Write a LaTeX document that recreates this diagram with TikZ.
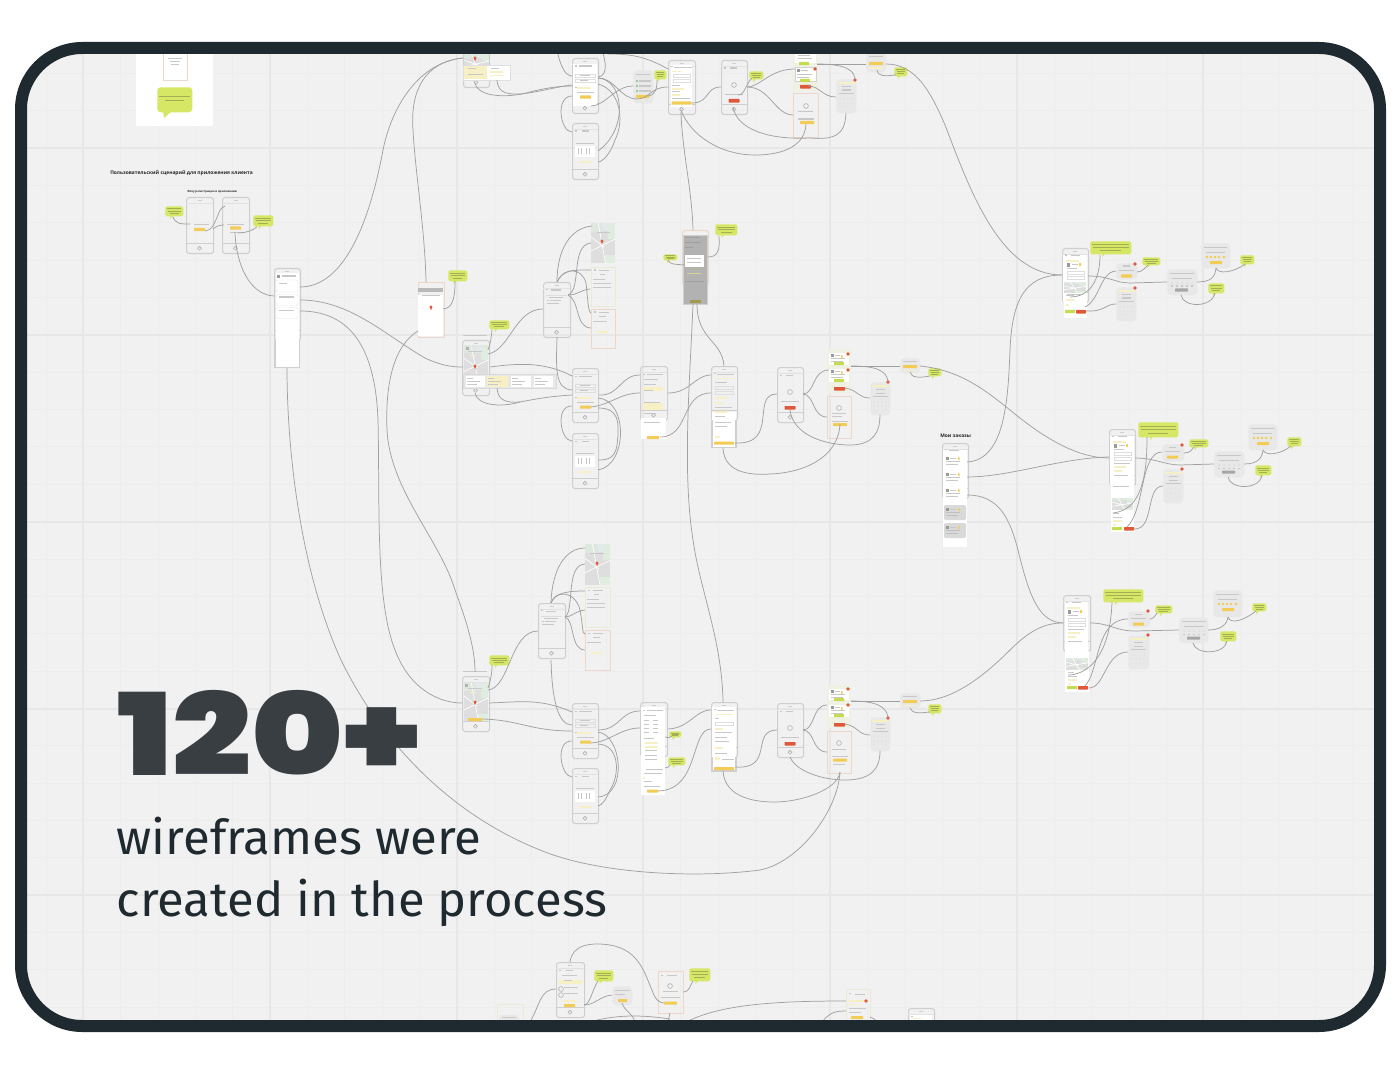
\documentclass[tikz,border=0pt]{standalone}
\usepackage{fontspec}
\usepackage{graphicx}
\setmainfont{Fira Sans}
\newfontfamily\hvy{Poppins Black}
\newfontfamily\lbl{Open Sans}[BoldFont={* Bold}]
\definecolor{board}{HTML}{F1F1F1}
\definecolor{gmaj}{HTML}{E7E7E7}
\definecolor{gmin}{HTML}{EDEDED}
\definecolor{frame}{HTML}{1F2A30}
\definecolor{big}{HTML}{393E42}
\definecolor{ph}{HTML}{CFCFCF}
\definecolor{wirec}{HTML}{A0A0A0}
\definecolor{tbarc}{HTML}{C8C8C8}
\definecolor{ybc}{HTML}{F2CC55}
\definecolor{rbc}{HTML}{E0583A}
\definecolor{gbc}{HTML}{C6DC4E}
\definecolor{lime}{HTML}{D6E765}
\definecolor{limet}{HTML}{A3AE55}
\definecolor{pale}{HTML}{F6F0C4}
\definecolor{sheetc}{HTML}{E8E8E8}
\definecolor{tanb}{HTML}{EBD8CA}
\definecolor{grnb}{HTML}{E8ECD6}
\definecolor{rowc}{HTML}{DEDEDE}
\tikzset{
 wire/.style={draw=wirec,line width=.55pt},
 phonebox/.style={draw=ph,line width=.85pt,rounded corners=2pt,inner sep=0pt,anchor=north west},
 sheetbox/.style={fill=sheetc,rounded corners=3pt,inner sep=0pt,anchor=north west},
 bubblebox/.style={fill=lime,rounded corners=1.2pt,inner sep=0pt,anchor=north west},
 framebox/.style={draw=#1,line width=.7pt,inner sep=0pt,anchor=north west},
 tbar/.style={fill=tbarc},
}
\newcommand\Wa[4]{\draw[wire] (#1) .. controls (#2) and (#3) .. (#4);}
\newcommand\Tb[3]{\fill[tbar] (#1,#2) rectangle ++(#3,1.4);}
\newcommand\Yb[3]{\fill[ybc,rounded corners=.5pt] (#1,#2) rectangle ++(#3,3.2);}
\newcommand\Rb[3]{\fill[rbc,rounded corners=.5pt] (#1,#2) rectangle ++(#3,3.6);}
\newcommand\Gb[3]{\fill[gbc,rounded corners=.5pt] (#1,#2) rectangle ++(#3,3.2);}
\newcommand\Pa[4]{\fill[pale] (#1,#2) rectangle ++(#3,#4);}
\newcommand\Wh[4]{\fill[white] (#1,#2) rectangle ++(#3,#4);}
\newcommand\Dot[2]{\fill[rbc] (#1,#2) circle[radius=1.8];}
\newcommand\Pin[2]{\fill[rbc] (#1,#2) circle[radius=1.6];\fill[rbc] (#1-1,#2+.5)--(#1,#2+3.5)--(#1+1,#2+.5)--cycle;}
\newcommand\Ring[2]{\draw[gray!70,line width=.4pt] (#1,#2) circle[radius=2.4];}
\newcommand\Row[4]{\draw[rowc,line width=.45pt] (#1,#2) rectangle (#3,#4);}
\newcommand\phone[5]{%
 \node[phonebox,minimum width=#4*.75pt,minimum height=#5*.75pt] (#1) at (#2,#3) {};
 \begin{scope}[shift={(#2,#3)}]
 \draw[ph,line width=.4pt] ({#4/2-2},3.6)--({#4/2+2},3.6);
 \draw[ph!60,line width=.4pt] (0,6.4)--(#4,6.4);
 \draw[ph,line width=.4pt] (0,{#5-9.5})--(#4,{#5-9.5});
 \draw[ph!85!black,line width=.45pt] ({#4/2},{#5-4.7}) circle[radius=1.9];
 \end{scope}}
\newcommand\bub[5]{%
 \fill[lime] ({#2+.3*#4},{#3+#5-.5})--++(0,3.6)--++(3,-3.6)--cycle;
 \node[bubblebox,minimum width=#4*.75pt,minimum height=#5*.75pt] (#1) at (#2,#3) {};
 \begin{scope}[shift={(#2,#3)}]
 \fill[limet] (2,{#5*.25}) rectangle ({#4-2},{#5*.25+.7});
 \fill[limet] (2.5,{#5*.48}) rectangle ({#4-2.5},{#5*.48+.7});
 \fill[limet] ({#4*.25},{#5*.7}) rectangle ({#4*.75},{#5*.7+.7});
 \end{scope}}
\newcommand\sheet[5]{\node[sheetbox,minimum width=#4*.75pt,minimum height=#5*.75pt] (#1) at (#2,#3) {};}
% screen templates (drawn inside a shifted scope, relative to the phone corner)
\newcommand\formG{\Tb{3}{7.5}{1.6}\Tb{7}{7.5}{13}\Row{3}{16}{23}{19}\Row{3}{21}{23}{24}\Tb{8}{17}{10}\Tb{8}{22}{8}\Pa{5}{29}{14}{2}\Tb{3}{29}{1.5}\Tb{5}{34}{17}\Yb{8}{37.5}{11}}
\newcommand\gridH{\Tb{3}{7.5}{1.6}\Tb{10}{7.5}{7}\Tb{4}{20}{18}\Wh{3}{23}{20}{11}\foreach \q in {6,9,14,17}{\fill[gray!45] (\q,25) rectangle ++(1.4,6);}\Pa{7}{38}{12}{2}}
\newcommand\scrKK{\Tb{3}{7.5}{2}\Tb{9}{7.5}{7}\Ring{13}{25}\Tb{4}{34}{18}\Rb{7.5}{39}{11}}
\newcommand\scrLL[1]{\Tb{3}{6.5}{2}\Tb{9}{7}{9}\Pa{4}{12}{13}{1.6}\fill[gray!80] (5,15) rectangle ++(3,4);\Tb{10}{16}{6}\Yb{17}{15}{2}\Tb{5}{20}{10}\Row{5}{23}{22}{26}\Row{5}{28}{22}{31}\Tb{5}{34}{16}\Pa{5}{37}{12}{2}\Pa{5}{41}{8}{2}\Tb{5}{46}{14}}
\newcommand\tileMap[4]{\begin{scope}\clip (#1,#2) rectangle ++(#3,#4);\fill[black!13] (#1,#2) rectangle ++(#3,#4);
 \fill[green!30!black!13] (#1,#2) rectangle ++(#3*.5,#4*.22);\fill[green!45!black!13] (#1+#3*.7,#2) rectangle ++(#3*.3,#4*.4);\fill[cyan!30!black!12] (#1+#3*.5,#2) rectangle ++(#3*.25,#4*.2);\fill[green!40!black!12] (#1+#3*.6,#2+#4*.8) rectangle ++(#3*.4,#4*.2);
 \draw[white,line width=.5pt] (#1,#2+#4*.7)--(#1+#3,#2+#4*.4) (#1+#3*.3,#2)--(#1+#3*.6,#2+#4) (#1,#2+#4*.35)--(#1+#3*.55,#2+#4*.6);
 \end{scope}}
\newcommand\shA{\Tb{6}{3}{9}\Tb{3}{8}{15}\Yb{6}{11.5}{10}}
\newcommand\shB{\Pa{2}{3}{17}{1.6}\Tb{6}{7}{9}\Tb{6}{10.5}{9}\Tb{3}{14}{15}\foreach \q in {4,8,12,16}{\foreach \r in {20,24,28}{\fill[gray!40] (\q,\r) circle[radius=.3];}}}
\newcommand\shC{\Tb{3}{4}{24}\Tb{5}{9}{20}\foreach \q in {5,10,15,20,25}{\fill[gray!55] (\q,14) circle[radius=.5];\Tb{\q-1}{16.5}{2}}\fill[gray!70,rounded corners=.5pt] (8,19.5) rectangle ++(13,3.2);}
\newcommand\shD{\Tb{3}{4}{23}\Tb{5}{9}{19}\foreach \q in {6,10,14,18,23}{\fill[ybc] (\q,14) circle[radius=1.3];}\Yb{9}{18}{12}}
\newcommand\cardP[1]{\Wh{1}{#1}{22}{13}\fill[gray!80] (3,#1+2) rectangle ++(2.5,3);\Tb{6.5}{#1+3}{6}\Yb{15}{#1+2}{1.6}\Tb{3}{#1+6}{14}\Tb{3}{#1+8.5}{12}}
\newcommand\cardG[1]{\fill[gray!30,rounded corners=1pt] (1,#1) rectangle ++(22,15);\fill[gray!80] (3,#1+3) rectangle ++(2.5,3);\Tb{6.5}{#1+4}{6}\Yb{15}{#1+3}{1.6}\fill[gray!50] (3,#1+7) rectangle ++(14,1.2);\fill[gray!50] (3,#1+10) rectangle ++(12,1.2);}
\begin{document}
\begin{tikzpicture}[x=.75pt,y=-.75pt]
\useasboundingbox (0,0) rectangle (1398,1080);
\begin{scope}
\clip[rounded corners=41pt] (27,54) rectangle (1374,1020);
\fill[board] (0,0) rectangle (1398,1080);
\foreach \k in {-1,...,36}{\draw[gmin,line width=.5pt] ({8.5+37.35*\k},0)--({8.5+37.35*\k},1080);}
\foreach \k in {-2,...,28}{\draw[gmin,line width=.5pt] (0,{148+37.35*\k})--(1398,{148+37.35*\k});}
\foreach \q in {83,270,457,643,830,1017,1203}{\draw[gmaj,line width=.8pt] (\q,0)--(\q,1080);}
\foreach \q in {148,335,522,709,895}{\draw[gmaj,line width=.8pt] (0,\q)--(1398,\q);}

% ---- top-left sheet
\fill[white] (136,40) rectangle (213,126);
\node[framebox=tanb,minimum width=24*.75pt,minimum height=40*.75pt] (note) at (163,40) {};
\Tb{168}{58}{14}\Tb{170}{61}{10}\Tb{171}{64}{8}
\fill[lime] (163,111)--(164,118)--(172,111)--cycle;
\node[bubblebox,minimum width=35*.75pt,minimum height=25*.75pt,rounded corners=2.5pt] (goal) at (157,87) {};
\fill[limet] (159,96.5) rectangle (190,97.4);\fill[limet] (165,100.5) rectangle (184,101.4);

% ---- titles
\node[anchor=base west,inner sep=0pt,text=black!85] (ttl) at (110,174.5) {\lbl\fontsize{3.67}{5}\selectfont\bfseries Пользовательский сценарий для приложения клиента};
\node[anchor=base west,inner sep=0pt,text=black!85] (ttl2) at (187,193) {\lbl\fontsize{2.1}{4}\selectfont\bfseries Флоу регистрации в приложении};
\node[anchor=base west,inner sep=0pt,text=black!85] (ttl3) at (940,437) {\lbl\fontsize{3.65}{5}\selectfont\bfseries Мои заказы};

% ---- registration
\phone{reg1}{186}{197}{27}{56}
\phone{reg2}{222}{197}{27}{56}
\begin{scope}[shift={(186,197)}]\Tb{8}{27}{15}\Yb{8}{31}{11}\end{scope}
\begin{scope}[shift={(222,197)}]\Tb{5}{27}{17}\Yb{8}{29.5}{11}\Tb{8}{35}{13}\end{scope}
\bub{b1}{165}{206}{18}{10}
\bub{b2}{253}{215}{20}{11}

% ---- tall menu phone
\phone{menu}{274}{268}{26}{72}
\Wh{275.5}{273}{23}{94}
\draw[ph,line width=.85pt] (275,340)--(275,367.5)--(299.5,367.5)--(299.5,340);
\foreach \q/\h in {280/12,294.5/11,307.5/11}{\draw[gray!30,dash pattern=on 1pt off .6pt,line width=.35pt,rounded corners=1.5pt] (276,\q) rectangle ++(22,\h);}
\Tb{279}{283}{8}\Tb{279}{296.5}{15}\Tb{279}{310}{15}\Tb{282}{275.5}{14}\fill[gray!80] (277,275) rectangle ++(3,3);

% ---- tan phone with pin
\node[framebox=tanb,minimum width=26*.75pt,minimum height=55*.75pt] (pinph) at (417.5,282) {};
\Wh{418}{295}{25}{41}\fill[gray!55] (418,288) rectangle ++(25,4);\Tb{422}{295}{18}\Pin{431}{307}

% ---- top row
\tileMap{464}{54}{25}{18}
\phone{topmap}{463}{40}{26}{47}
\Pin{475}{58}
\fill[white] (463,65) rectangle (510,80);\draw[gray!25,line width=.4pt] (463,65) rectangle (510,80);
\Pa{464}{66}{23}{13}\Tb{468}{68}{8}\Tb{468}{74}{15}\Tb{491}{68}{8}\Pa{490}{71}{13}{2}\Pa{490}{75}{14}{1.5}
\phone{a1}{572}{58}{26}{55}
\Wh{573}{64}{24}{42}\begin{scope}[shift={(572,58)}]\formG\end{scope}
\phone{a2}{572}{123}{26}{56}\begin{scope}[shift={(572,123)}]\gridH\end{scope}
\sheet{s1}{633}{70}{20}{33}
\begin{scope}[shift={(633,70)}]\Tb{3}{4}{14}\foreach \q in {11,16,21}{\fill[green!40!gray] (4,\q) circle[radius=.9];\Tb{6}{\q-.6}{12};}\Yb{3}{25}{13}\Pa{5}{29}{6}{1}\end{scope}
\bub{b3}{654}{70}{12}{9}
\phone{a3}{668}{60}{27}{54}
\Wh{671}{65}{21}{42}\begin{scope}[shift={(668,60)}]\Tb{3}{6}{1.6}\Tb{6}{7}{18}\Pa{4}{11}{10}{1.5}\Row{5}{14}{22}{17}\Row{5}{19}{22}{22}\Tb{4}{25}{8}\Pa{4}{28}{12}{2}\Tb{4}{31}{8}\Pa{4}{34}{8}{2}\Tb{4}{38}{18}\Yb{3.5}{41.5}{20}\end{scope}
\phone{a4}{721}{60}{26}{54}\begin{scope}[shift={(721,60)}]\scrKK\end{scope}
\bub{b4}{749}{71}{14}{8}
\fill[grnb!70] (793,54) rectangle (818,91);
\Wh{795}{54}{21}{9}\Wh{795}{67}{21}{14}\draw[gray!35,line width=.3pt] (795,67) rectangle (816,81);
\Tb{798}{55}{12}\Tb{798}{58}{14}\Gb{799}{62}{10}\fill[gray!80] (797,69) rectangle ++(3,3);\Tb{801}{70}{7}\Tb{797}{74}{15}\Tb{797}{77}{12}\Gb{800}{79}{10}\Dot{815}{69}\Rb{800}{85}{11}
\node[framebox=tanb,minimum width=25*.75pt,minimum height=44*.75pt] (t1) at (793,93) {};
\Ring{806}{106}\Tb{798}{111}{15}\Tb{798}{118.5}{16}\Yb{800}{121}{14}
\sheet{s2}{836}{79}{20}{34}\begin{scope}[shift={(836,79)}]\shB\end{scope}\Dot{855}{80}
\sheet{s3}{866}{52}{20}{20}\begin{scope}[shift={(866,54)}]\Tb{3}{2}{14}\Yb{3}{8}{14}\Pa{3}{13}{14}{1.6}\end{scope}
\bub{b5}{894}{67}{13}{9}

% ---- middle row: map phone etc.
\bub{b6}{448}{270}{19}{11}
\bub{b7}{489}{320}{20}{9}
\Tb{463}{335}{24}
\tileMap{464}{345}{24}{38}
\phone{e1}{462}{340}{27}{55}
\Tb{468}{351}{14}\fill[gray!60] (466,347) rectangle ++(3,3);\Pin{475}{366}\Pa{470}{355}{6}{1}
\fill[gray!18] (463,374) rectangle (556,388);\draw[gray!30,line width=.4pt] (463,374) rectangle (556,388);
\Wh{466}{376}{19}{11}\Pa{487}{376}{21}{11}\Wh{511}{376}{20}{11}\Wh{534}{376}{19}{11}
\foreach \q in {467,488,512,535}{\Tb{\q}{378}{6}\Tb{\q}{381}{13}\Tb{\q}{384}{10}}
\phone{f1}{543}{282}{27}{55}
\begin{scope}[shift={(543,282)}]\Tb{3}{7}{1.6}\Tb{8}{7.5}{10}\draw[rowc,line width=.35pt] (3,13) -- (24,13);\Tb{6}{15}{14}\Tb{4}{18}{2}\Tb{7}{18}{11}\Tb{4}{21}{12}\end{scope}
\tileMap{591}{223}{24}{40}\Pin{602}{241}\Tb{597}{232}{13}
\node[framebox=grnb,minimum width=24*.75pt,minimum height=39*.75pt] (f2) at (591,267) {};
\begin{scope}[shift={(591,267)}]\Tb{3}{2.5}{2}\Tb{8}{3}{10}\Tb{9}{7}{5}\Tb{2}{12}{12}\Tb{2}{16}{18}\Tb{2}{20}{18}\end{scope}
\node[framebox=tanb,minimum width=24*.75pt,minimum height=39*.75pt] (f3) at (591,309) {};
\begin{scope}[shift={(591,309)}]\Tb{3}{2.5}{2}\Tb{8}{3}{10}\Tb{8}{7}{7}\Tb{2}{12}{14}\Pa{6}{22}{11}{1.6}\end{scope}
\phone{g1}{572}{368}{26}{54}\begin{scope}[shift={(572,368)}]\formG\end{scope}
\phone{h1}{572}{433}{26}{55}\begin{scope}[shift={(572,433)}]\gridH\end{scope}
\phone{i1}{640}{366}{27}{54}
\Wh{641}{418}{25}{21}
\begin{scope}[shift={(640,366)}]\Tb{3}{7.5}{1.6}\Tb{7}{8}{16}\Tb{4}{13}{14}\Tb{4}{18}{12}\Pa{3}{21}{20}{4}\Tb{4}{24}{9}\Pa{3}{37}{20}{7}\Tb{4}{36}{16}\Tb{4}{47}{12}\Tb{4}{56}{16}\Yb{7}{70}{12}\end{scope}
\node[phonebox,draw=tanb,minimum width=26*.75pt,minimum height=55*.75pt] (g0) at (682,230) {};
\fill[black!30] (683,235) rectangle (707,304);\draw[ph,line width=.6pt] (683,235) rectangle (707,304);
\Wh{685}{255}{19}{12}
\begin{scope}[shift={(683,235)}]\fill[gray!75] (2,2) rectangle ++(14,1.4);\fill[gray!75] (2,7) rectangle ++(16,1);\fill[gray!75] (2,12) rectangle ++(8,1);\Tb{4}{23}{14}\Tb{4}{27}{14}\fill[olive!40!gray!60] (7,34) rectangle ++(10,1);\fill[yellow!50!gray!70] (4,38) rectangle ++(14,1);\fill[gray!75] (2,46) rectangle ++(19,1);\fill[olive!60!gray!85] (7,65) rectangle ++(11,3);\end{scope}
\bub{b8}{715}{224}{22}{11}
\bub{b9}{663}{254}{14}{6}
\phone{j1}{711}{366}{26}{54}
\Wh{712}{412}{24}{35}\draw[ph,line width=.85pt] (712,420)--(712,447.5)--(736,447.5)--(736,420);
\begin{scope}[shift={(711,366)}]\Tb{3}{7}{1.6}\Tb{6}{7.5}{17}\Pa{4}{12}{18}{1.4}\Tb{4}{16}{12}\Row{4}{20}{22}{23}\Row{4}{25}{22}{28}\Pa{4}{31}{12}{2}\Pa{4}{36}{8}{2}\Tb{4}{41}{17}\Pa{4}{45}{12}{1.5}\Tb{4}{50}{10}\Tb{4}{56}{16}\Tb{4}{60}{12}\Pa{4}{70}{5}{1.6}\Yb{3}{75.5}{20}\end{scope}
\phone{k1}{777}{367}{26}{55}\begin{scope}[shift={(777,367)}]\scrKK\end{scope}
\fill[grnb!70] (827,349) rectangle (851,393);
\Wh{829}{353}{20}{12}\Wh{829}{369}{20}{13}
\begin{scope}[shift={(829,353)}]\fill[gray!80] (2,1) rectangle ++(3,3);\Tb{6}{2}{5}\Yb{12}{2}{1.6}\Tb{2}{5}{14}\Tb{2}{7.5}{12}\Gb{5}{9}{10}\end{scope}
\begin{scope}[shift={(829,369)}]\fill[gray!80] (2,1) rectangle ++(3,3);\Tb{6}{2}{5}\Yb{12}{2}{1.6}\Tb{2}{5}{14}\Tb{2}{7.5}{12}\Gb{5}{10}{10}\end{scope}
\Dot{848}{354}\Dot{848}{370}\Rb{834}{387}{11}
\node[framebox=tanb,minimum width=24*.75pt,minimum height=42*.75pt] (t2) at (827,396) {};
\Ring{839}{408}\Tb{832}{413}{14}\Tb{832}{416}{10}\Tb{832}{420.5}{16}\Yb{833}{423}{14}
\sheet{s4}{870}{382}{20}{33}\begin{scope}[shift={(870,382)}]\shB\end{scope}\Dot{888}{382}
\sheet{s5}{900}{358}{20}{15}\begin{scope}[shift={(900,358)}]\Tb{3}{2.5}{14}\Yb{3}{7}{14}\Pa{3}{11.5}{14}{1.4}\end{scope}
\bub{b10}{928}{368}{13}{8}

% ---- right: groups
\phone{l1}{1062}{248}{26}{54}
\Wh{1063}{255}{24}{47}\Wh{1063.5}{302}{23.5}{16}
\begin{scope}[shift={(1062,248)}]\scrLL{}\end{scope}
\tileMap{1064}{282}{22}{11}\Tb{1066}{295}{8}\Pa{1066}{299}{9}{2}\Pa{1066}{304}{3}{2}
\Gb{1065}{310}{10}\Rb{1076}{310}{10}
\bub{b11}{1090}{241}{41}{13}
\sheet{s6}{1116}{263}{21}{16}\begin{scope}[shift={(1116,263)}]\Tb{7}{2.5}{7}\Tb{3}{7}{15}\Yb{5}{11.5}{11}\end{scope}\Dot{1135}{264}
\bub{b12}{1142}{257}{18}{8}
\sheet{s7}{1116}{287}{20}{34}\begin{scope}[shift={(1116,287)}]\shB\end{scope}\Dot{1135}{288}
\sheet{s8}{1167}{269}{30}{26}\begin{scope}[shift={(1167,269)}]\shC\end{scope}
\sheet{s9}{1201}{243}{29}{25}\begin{scope}[shift={(1201,243)}]\shD\end{scope}
\bub{b13}{1240}{255}{14}{9}
\bub{b14}{1208}{283}{16}{10}

\phone{m1}{942}{443}{26}{55}
\Wh{943}{450}{24}{97}
\begin{scope}[shift={(943,441)}]\Tb{2}{8}{2}\Tb{6}{8.5}{10}\cardP{14}\cardP{30}\cardP{46}\cardG{64}\cardG{82}\end{scope}

\phone{n1}{1109}{429}{26}{56}
\Wh{1110}{436}{24}{49}\Wh{1111}{485}{23}{47}
\begin{scope}[shift={(1109,429)}]\scrLL{}\end{scope}
\Tb{1113}{486}{16}\tileMap{1112}{498}{21}{12}\Tb{1113}{513}{6}\Tb{1113}{517}{9}\Pa{1113}{520}{9}{2}\Pa{1113}{524}{3}{2}
\Gb{1112}{527}{10}\Rb{1124}{527}{10}
\bub{b15}{1138}{422}{40}{15}
\sheet{s10}{1162}{444}{22}{17}\begin{scope}[shift={(1162,444)}]\Tb{7}{2.5}{7}\Tb{3}{7}{15}\Yb{5}{11.5}{11}\end{scope}\Dot{1182}{445}
\bub{b16}{1189}{439}{19}{8}
\sheet{s11}{1163}{469}{20}{34}\begin{scope}[shift={(1163,469)}]\shB\end{scope}\Dot{1182}{469}
\sheet{s12}{1214}{451}{30}{26}\begin{scope}[shift={(1214,451)}]\shC\end{scope}
\sheet{s13}{1248}{424}{29}{26}\begin{scope}[shift={(1248,424)}]\shD\end{scope}
\bub{b17}{1287}{437}{14}{9}
\bub{b18}{1255}{465}{16}{10}

\phone{o1}{1063}{595}{27}{56}
\Wh{1065}{602}{23}{49}\Wh{1065}{651}{24}{41}
\begin{scope}[shift={(1063,595)}]\scrLL{}\end{scope}
\tileMap{1066}{658}{22}{12}\Tb{1068}{672}{6}\Tb{1068}{676}{9}\Pa{1068}{679}{9}{2}\Pa{1068}{683}{3}{2}
\Gb{1067}{686}{10}\Rb{1078}{686}{10}
\bub{b19}{1103}{589}{40}{13}
\sheet{s14}{1128}{611}{22}{16}\begin{scope}[shift={(1128,611)}]\Tb{7}{2.5}{7}\Tb{3}{7}{15}\Yb{5}{11.5}{11}\end{scope}\Dot{1148}{611}
\bub{b20}{1155}{605}{17}{8}
\sheet{s15}{1128}{635}{21}{34}\begin{scope}[shift={(1128,635)}]\shB\end{scope}\Dot{1148}{635}
\sheet{s16}{1179}{617}{29}{26}\begin{scope}[shift={(1179,617)}]\shC\end{scope}
\sheet{s17}{1213}{590}{29}{27}\begin{scope}[shift={(1213,590)}]\shD\end{scope}
\bub{b21}{1252}{603}{14}{8}
\bub{b22}{1220}{631}{16}{10}

% ---- lower row
\phone{f4}{538}{603}{27}{55}
\begin{scope}[shift={(538,603)}]\Tb{3}{7}{1.6}\Tb{8}{7.5}{10}\draw[rowc,line width=.35pt] (3,13) -- (24,13);\Tb{6}{15}{14}\Tb{4}{18}{2}\Tb{7}{18}{11}\Tb{4}{21}{12}\end{scope}
\tileMap{585}{544}{25}{41}\Pin{597}{563}\Tb{590}{553}{14}
\node[framebox=grnb,minimum width=25*.75pt,minimum height=40*.75pt] (f5) at (585,587) {};
\begin{scope}[shift={(585,587)}]\Tb{3}{2.5}{2}\Tb{8}{3}{10}\Tb{9}{7}{5}\Tb{2}{12}{12}\Tb{2}{16}{18}\Tb{2}{20}{18}\end{scope}
\node[framebox=tanb,minimum width=25*.75pt,minimum height=40*.75pt] (f6) at (585,630) {};
\begin{scope}[shift={(585,630)}]\Tb{3}{2.5}{2}\Tb{8}{3}{10}\Tb{8}{7}{7}\Tb{2}{12}{14}\Pa{6}{22}{11}{1.6}\end{scope}
\Tb{463}{671}{24}
\tileMap{464}{682}{24}{40}
\phone{e2}{462}{676}{27}{55}
\Tb{468}{688}{14}\fill[gray!60] (465,684) rectangle ++(3,3);\Pin{475}{702}\Pa{470}{692}{6}{1}\Yb{468}{718}{14}
\bub{b23}{489}{655}{20}{10}
\phone{g2}{572}{703}{26}{55}\begin{scope}[shift={(572,703)}]\formG\end{scope}
\phone{h2}{572}{768}{26}{55}\begin{scope}[shift={(572,768)}]\gridH\end{scope}
\phone{i2}{640}{702}{27}{54}
\Wh{641}{707}{24}{88}
\begin{scope}[shift={(640,702)}]\Tb{3}{7.5}{1.6}\Tb{7}{8}{16}\Tb{4}{13}{12}\foreach \q in {18,22,26,30}{\Tb{4}{\q}{5}\Tb{13}{\q}{5}}\Tb{4}{36}{10}\Pa{5}{40}{13}{2}\Pa{5}{44}{13}{2}\Tb{5}{48}{12}\Tb{5}{53}{12}\Tb{5}{57}{12}\Tb{6}{67}{17}\Tb{4}{71}{18}\Pa{3}{75}{2}{2}\Tb{4}{79}{8}\Tb{4}{84}{16}\Yb{7}{87.5}{11}\end{scope}
\bub{b24}{669}{731}{12}{6}
\bub{b25}{668}{757}{17}{8}
\phone{j2}{711}{702}{26}{55}
\Wh{712}{707}{24}{64}\draw[ph,line width=.85pt] (712,757)--(712,771)--(736,771)--(736,757);
\begin{scope}[shift={(711,702)}]\Tb{3}{7}{1.6}\Tb{6}{7.5}{17}\Pa{4}{12}{18}{1.4}\Tb{4}{16}{4}\Row{4}{20}{22}{23}\Pa{4}{26}{8}{2}\Tb{4}{30}{17}\Tb{4}{35}{12}\Tb{4}{39}{14}\Pa{4}{45}{8}{1.5}\Tb{4}{51}{12}\Pa{4}{55}{5}{3}\Tb{11}{57}{12}\Yb{3}{65}{20}\end{scope}
\phone{k2}{777}{703}{26}{54}\begin{scope}[shift={(777,703)}]\scrKK\end{scope}
\fill[grnb!70] (827,685) rectangle (851,728);
\Wh{829}{689}{20}{11}\Wh{829}{705}{20}{12}
\begin{scope}[shift={(829,689)}]\fill[gray!80] (2,1) rectangle ++(3,3);\Tb{6}{2}{5}\Yb{12}{2}{1.6}\Tb{2}{5}{14}\Tb{2}{7.5}{12}\Gb{5}{9}{10}\end{scope}
\begin{scope}[shift={(829,705)}]\fill[gray!80] (2,1) rectangle ++(3,3);\Tb{6}{2}{5}\Yb{12}{2}{1.6}\Tb{2}{5}{14}\Tb{2}{7.5}{12}\Gb{5}{9}{10}\end{scope}
\Dot{848}{689}\Dot{848}{705}\Rb{834}{723}{11}
\node[framebox=tanb,minimum width=24*.75pt,minimum height=42*.75pt] (t3) at (827,731) {};
\Ring{839}{743}\Tb{832}{749}{14}\Tb{832}{756}{16}\Yb{833}{758.5}{14}\Tb{833}{764}{12}
\sheet{s18}{870}{717}{20}{34}\begin{scope}[shift={(870,717)}]\shB\end{scope}\Dot{888}{718}
\sheet{s19}{900}{693}{20}{15}\begin{scope}[shift={(900,693)}]\Tb{3}{2.5}{14}\Yb{3}{7}{14}\Pa{3}{11.5}{14}{1.4}\end{scope}
\bub{b26}{928}{704}{13}{9}

% ---- bottom row
\node[framebox=grnb,minimum width=26*.75pt,minimum height=30*.75pt] (x1) at (497,1004) {};
\fill[sheetc,rounded corners=2pt] (499,1015) rectangle (519,1030);\Tb{502}{1017}{14}
\phone{p1}{556}{962}{28}{55}
\begin{scope}[shift={(556,962)}]\Tb{3}{7.5}{2}\Tb{10}{8}{7}\Tb{6}{13}{15}\Pa{3}{18}{23}{4}\Tb{8}{18}{8}\Ring{5}{27}\Tb{8}{25}{14}\Ring{5}{33}\Tb{8}{31}{14}\Pa{7}{38}{13}{2}\Yb{8}{42}{11}\end{scope}
\bub{b27}{594}{970}{19}{11}
\sheet{s20}{612}{986}{20}{19}\begin{scope}[shift={(612,986)}]\Tb{3}{4}{15}\Tb{3}{8}{10}\Yb{6}{13}{9}\end{scope}
\node[framebox=tanb,minimum width=25*.75pt,minimum height=42*.75pt] (t4) at (658,971) {};
\begin{scope}[shift={(658,971)}]\Tb{3}{3.5}{2}\Tb{9}{4}{10}\Ring{12}{15}\Tb{5}{20}{15}\Tb{3}{26}{19}\Yb{6}{30.5}{13}\end{scope}
\bub{b28}{689}{968}{21}{13}
\node[framebox=grnb,minimum width=24*.75pt,minimum height=40*.75pt] (x2) at (846,989) {};
\begin{scope}[shift={(846,989)}]\Tb{3}{4}{2}\Tb{9}{4.5}{10}\Pa{3}{11}{16}{1.5}\Dot{20}{12}\Pa{3}{15}{12}{1.2}\Tb{3}{19}{17}\Tb{3}{23}{12}\Yb{5}{27}{12}\end{scope}
\phone{q1}{908}{1008}{26}{30}
\Wh{910}{1015}{22}{15}\Tb{911}{1016}{2}\Pa{911}{1018}{10}{1.4}

% ---- wires: registration
\Wa{173,217}{176,224}{180,224}{190,224}
\Wa{205,231}{212,231}{215,222}{218,215}
\Wa{218,215}{220,209}{222,207}{225,206}
\Wa{213,229}{217,226}{219,225}{224,225}
\Wa{238,233}{245,233}{252,231}{257,227}
\Wa{235,232}{236,265}{250,295}{274,296}
% tall phone
\Wa{300,287}{345,287}{370,220}{383,150}
\Wa{383,150}{392,105}{420,62}{463,58}
\Wa{463,58}{425,62}{410,90}{413,130}
\Wa{413,130}{415,170}{425,230}{426,282}
\Wa{300,300}{350,300}{385,335}{425,358}
\Wa{425,358}{440,365}{450,367}{463,367}
\Wa{300,311}{345,311}{375,340}{378,420}
\Wa{378,420}{380,500}{375,600}{395,650}
\Wa{395,650}{410,690}{440,703}{462,703}
\Wa{418,331}{395,345}{385,380}{387,430}
\Wa{387,430}{390,490}{440,540}{455,590}
\Wa{455,590}{468,625}{475,650}{475,672}
\Wa{287,368}{287,450}{300,570}{341,660}
\Wa{341,660}{375,730}{440,810}{540,850}
\Wa{540,850}{600,875}{700,878}{760,870}
\Wa{760,870}{800,862}{838,810}{840,772}
% top row
\Wa{475,83}{478,98}{510,98}{530,92}
\Wa{530,92}{545,88}{560,86}{572,86}
\Wa{497,80}{498,95}{510,94}{520,94}
\Wa{520,94}{540,92}{555,87}{572,85}
\Wa{557,50}{560,65}{565,76}{572,76}
\Wa{598,77}{608,76}{606,62}{602,50}
\Wa{598,78}{625,80}{628,130}{598,151}
\Wa{598,84}{620,90}{625,120}{615,140}
\Wa{615,140}{610,155}{602,162}{598,162}
\Wa{572,96}{555,96}{560,132}{572,132}
\Wa{591,106}{605,106}{615,86}{633,86}
\Wa{598,78}{615,78}{620,99}{637,99}
\Wa{637,99}{650,99}{650,87}{668,87}
\Wa{657,80}{657,90}{655,95}{648,96}
\Wa{608,54}{630,54}{645,56}{668,69}
\Wa{692,103}{710,103}{705,87}{721,87}
\Wa{738,95}{745,95}{745,85}{752,78}
\Wa{747,87}{760,87}{770,69}{795,69}
\Wa{747,87}{770,87}{775,115}{793,115}
\Wa{808,86}{820,86}{822,97}{836,97}
\draw[wire] (817,64)--(866,64);
\Wa{817,64}{845,64}{855,70}{855,80}
\Wa{733,107}{737,130}{770,140}{810,138}
\Wa{810,138}{835,140}{845,135}{846,113}
\Wa{681,110}{690,135}{720,155}{755,155}
\Wa{755,155}{785,155}{805,145}{806,124}
\Wa{681,112}{682,150}{692,190}{693,230}
\Wa{877,70}{878,77}{885,76}{896,75}
\Wa{886,64}{915,64}{930,90}{945,125}
\Wa{945,125}{970,190}{1000,275}{1062,275}
% middle row
\Wa{443,309}{455,309}{455,290}{455,281}
\Wa{488,354}{510,350}{515,309}{543,309}
\Wa{488,350}{490,345}{491,340}{492,330}
\Wa{475,393}{477,405}{500,408}{520,402}
\Wa{520,402}{540,398}{555,396}{572,395}
\Wa{497,388}{498,400}{505,403}{520,402}
\Wa{490,367}{520,363}{545,362}{572,376}
\Wa{557,282}{557,250}{570,228}{592,226}
\Wa{557,282}{563,270}{570,270}{591,270}
\Wa{557,282}{565,266}{582,268}{586,283}
\Wa{586,283}{588,300}{588,312}{591,313}
\Wa{568,295}{582,290}{570,245}{591,243}
\Wa{568,295}{578,295}{580,290}{590,289}
\Wa{568,295}{580,300}{575,328}{591,328}
\Wa{557,337}{556,370}{555,389}{572,390}
\Wa{599,395}{620,396}{620,375}{640,375}
\Wa{591,407}{610,405}{620,393}{640,393}
\Wa{598,398}{628,400}{628,465}{598,470}
\Wa{598,408}{618,408}{620,420}{617,445}
\Wa{617,445}{615,460}{605,460}{598,460}
\Wa{572,406}{555,405}{560,441}{572,441}
\Wa{668,393}{690,393}{695,375}{711,375}
\Wa{660,437}{690,437}{680,393}{711,393}
\Wa{697,304}{697,340}{722,340}{724,366}
\Wa{693,304}{690,380}{682,470}{693,540}
\Wa{693,540}{700,590}{722,640}{723,702}
\Wa{668,260}{670,265}{675,264}{684,265}
\Wa{719,236}{720,250}{718,257}{708,257}
\Wa{735,443}{780,445}{750,394}{777,394}
\Wa{723,448}{724,475}{755,475}{770,474}
\Wa{770,474}{800,473}{838,460}{840,424}
\Wa{790,410}{793,435}{825,445}{850,445}
\Wa{850,445}{875,445}{880,430}{880,415}
\Wa{803,394}{815,394}{812,370}{829,370}
\Wa{803,394}{815,395}{812,417}{827,417}
\draw[wire] (851,366)--(900,366);
\Wa{851,366}{875,366}{887,370}{888,382}
\Wa{845,388}{858,390}{858,398}{870,398}
\Wa{910,372}{911,378}{920,378}{930,376}
\Wa{920,366}{960,370}{985,390}{1010,410}
\Wa{1010,410}{1040,435}{1075,458}{1109,458}
% my orders
\Wa{967,462}{1005,460}{1008,400}{1010,350}
\Wa{1010,350}{1012,300}{1025,275}{1062,275}
\Wa{967,477}{1010,477}{1060,458}{1109,457}
\Wa{967,495}{1000,495}{1010,520}{1018,550}
\Wa{1018,550}{1030,600}{1040,622}{1063,623}
% L group
\Wa{1088,276}{1110,276}{1115,283}{1130,283}
\draw[wire] (1130,283)--(1167,282);
\Wa{1070,297}{1090,297}{1100,280}{1100,255}
\Wa{1085,307}{1100,300}{1100,272}{1116,271}
\Wa{1086,311}{1105,312}{1105,304}{1116,304}
\Wa{1137,272}{1142,272}{1145,268}{1148,265}
\Wa{1197,282}{1210,282}{1215,278}{1216,268}
\Wa{1216,268}{1218,275}{1235,272}{1245,264}
\Wa{1181,295}{1183,308}{1212,308}{1215,293}
% N group
\Wa{1135,458}{1155,458}{1165,465}{1180,465}
\draw[wire] (1180,465)--(1214,464);
\Wa{1113,513}{1140,510}{1147,480}{1147,437}
\Wa{1127,527}{1145,510}{1140,452}{1162,452}
\Wa{1134,529}{1155,530}{1145,486}{1163,486}
\Wa{1184,453}{1190,453}{1192,450}{1194,447}
\Wa{1244,464}{1258,464}{1262,458}{1263,450}
\Wa{1263,450}{1265,456}{1280,455}{1291,446}
\Wa{1228,477}{1230,490}{1260,490}{1262,475}
% O group
\Wa{1090,623}{1110,623}{1115,631}{1135,631}
\draw[wire] (1135,631)--(1179,630);
\Wa{1068,675}{1085,675}{1110,660}{1112,602}
\Wa{1085,686}{1100,670}{1095,619}{1128,619}
\Wa{1089,688}{1105,688}{1105,652}{1128,652}
\Wa{1150,619}{1153,619}{1155,616}{1157,613}
\Wa{1208,630}{1220,630}{1227,625}{1228,617}
\Wa{1228,617}{1230,625}{1245,620}{1256,611}
\Wa{1193,643}{1195,655}{1225,655}{1227,641}
% lower row
\Wa{551,603}{552,570}{565,548}{585,548}
\Wa{551,603}{555,592}{570,591}{585,591}
\Wa{551,603}{555,590}{575,590}{580,610}
\Wa{580,610}{583,625}{582,634}{585,634}
\Wa{565,617}{575,610}{565,565}{585,564}
\Wa{565,617}{572,617}{575,611}{585,610}
\Wa{565,617}{575,620}{570,650}{585,650}
\Wa{551,660}{552,700}{558,725}{572,725}
\Wa{488,690}{510,688}{510,631}{538,631}
\Wa{488,688}{490,682}{492,675}{492,665}
\Wa{489,703}{520,702}{540,698}{572,712}
\Wa{482,719}{520,720}{530,731}{572,731}
\Wa{598,730}{620,730}{620,711}{640,711}
\Wa{591,743}{610,742}{620,728}{640,728}
\Wa{598,732}{622,735}{628,795}{598,797}
\Wa{598,744}{620,745}{620,775}{610,790}
\Wa{610,790}{606,800}{602,805}{598,806}
\Wa{572,741}{555,740}{560,776}{572,777}
\Wa{668,729}{690,728}{695,710}{711,710}
\Wa{665,737}{668,738}{670,738}{672,736}
\Wa{665,768}{667,768}{669,767}{670,765}
\Wa{658,791}{700,790}{690,729}{711,729}
\Wa{735,767}{775,770}{750,730}{777,730}
\Wa{723,771}{725,800}{760,802}{775,802}
\Wa{775,802}{800,802}{838,790}{840,772}
\Wa{790,757}{795,770}{820,780}{845,780}
\Wa{845,780}{870,780}{880,770}{880,751}
\Wa{803,730}{815,730}{812,705}{827,705}
\Wa{803,730}{815,731}{812,752}{827,752}
\draw[wire] (851,701)--(900,701);
\Wa{851,701}{875,701}{887,706}{888,718}
\Wa{845,724}{858,726}{858,735}{870,735}
\Wa{910,708}{912,714}{920,713}{930,712}
\Wa{920,701}{950,701}{980,680}{1010,650}
\Wa{1010,650}{1030,630}{1045,623}{1063,623}
% bottom row
\Wa{570,962}{572,945}{590,942}{610,945}
\Wa{610,945}{640,950}{645,975}{652,990}
\Wa{652,990}{655,1000}{660,1003}{664,1003}
\Wa{530,1022}{540,1005}{540,989}{556,989}
\Wa{584,1005}{590,1005}{592,990}{598,981}
\Wa{584,1005}{595,1005}{600,996}{612,995}
\Wa{622,1003}{625,1012}{632,1012}{635,1022}
\Wa{683,992}{690,992}{690,985}{693,981}
\Wa{590,1022}{620,1013}{650,1016}{670,1019}
\draw[wire] (670,1013)--(668,1022);
\Wa{686,1022}{720,1005}{770,1001}{846,1001}
\Wa{822,1022}{830,1012}{836,1011}{846,1011}
\Wa{870,1017}{873,1018}{875,1019}{877,1022}

% ---- headline
\node[anchor=base west,inner sep=0pt,text=big] (num) at (117,775) {\scalebox{1.16}[.95]{\hvy\fontsize{90}{90}\selectfont 120+}};
\node[anchor=base west,inner sep=0pt,text=frame] (l1t) at (116.5,854) {\scalebox{1.023}[1]{\fontsize{36}{40}\selectfont wireframes were}};
\node[anchor=base west,inner sep=0pt,text=frame] (l2t) at (116.5,916) {\scalebox{1.02}[1]{\fontsize{36}{40}\selectfont created in the process}};
\end{scope}
\draw[frame,line width=9pt,rounded corners=46pt] (21,48) rectangle (1380,1026);
\end{tikzpicture}
\end{document}
